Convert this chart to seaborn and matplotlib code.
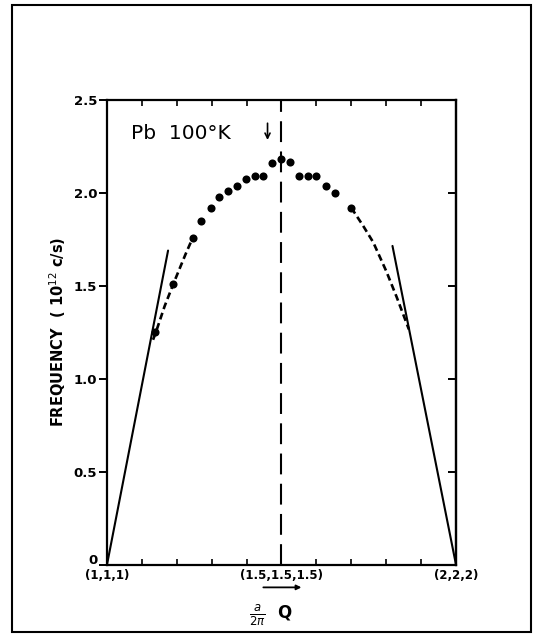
import matplotlib
matplotlib.use("Agg")
import matplotlib.pyplot as plt
import seaborn as sns
from matplotlib.patches import Rectangle
from matplotlib.transforms import ScaledTranslation

# ==========================================================
# DATA
# ==========================================================

# measured phonon frequencies along (1,1,1) -> (2,2,2)
q_points = [1.138, 1.19, 1.246, 1.27, 1.297, 1.322, 1.348, 1.373, 1.399, 1.423,
            1.447, 1.472, 1.50, 1.525, 1.55, 1.575, 1.60, 1.627, 1.653, 1.70]
nu_points = [1.25, 1.51, 1.76, 1.85, 1.92, 1.98, 2.01, 2.035, 2.075, 2.09,
             2.09, 2.16, 2.185, 2.165, 2.09, 2.09, 2.09, 2.04, 2.00, 1.92]

# dashed guide curves
q_dash_left = [1.132, 1.14, 1.165, 1.19, 1.225, 1.246]
nu_dash_left = [1.21, 1.25, 1.39, 1.51, 1.67, 1.76]
q_dash_right = [1.70, 1.734, 1.763, 1.80, 1.83, 1.865]
nu_dash_right = [1.92, 1.823, 1.734, 1.58, 1.44, 1.266]

# elastic (sound velocity) slopes
q_sound_left = [1.0, 1.175]
nu_sound_left = [0.0, 1.69]
q_sound_right = [1.818, 2.0]
nu_sound_right = [1.715, 0.0]

zone_center = 1.5
x_ticks = [1.0, 1.5, 2.0]
x_ticklabels = ["(1,1,1)", "(1.5,1.5,1.5)", "(2,2,2)"]
y_ticks = [0, 0.5, 1.0, 1.5, 2.0, 2.5]
y_ticklabels = ["0", "0.5", "1.0", "1.5", "2.0", "2.5"]

# ==========================================================
# PLOT
# ==========================================================

sns.set_style("ticks")
plt.rcParams["font.family"] = ["DejaVu Sans"]
plt.rcParams["text.color"] = "black"
plt.rcParams["axes.labelcolor"] = "black"
plt.rcParams["xtick.color"] = "black"
plt.rcParams["ytick.color"] = "black"

fig = plt.figure(figsize=(5.45, 6.37), dpi=100)
ax = fig.add_axes([0.1963, 0.1135, 0.6404, 0.7295])

sns.scatterplot(x=q_points, y=nu_points, ax=ax, color="black", s=34,
                edgecolor="black", linewidth=0, zorder=4)

for qs, ns in [(q_dash_left, nu_dash_left), (q_dash_right, nu_dash_right)]:
    sns.lineplot(x=qs, y=ns, ax=ax, color="black", linewidth=1.9,
                 linestyle=(0, (2.6, 1.5)), sort=False, estimator=None)

for qs, ns in [(q_sound_left, nu_sound_left), (q_sound_right, nu_sound_right)]:
    sns.lineplot(x=qs, y=ns, ax=ax, color="black", linewidth=1.5,
                 sort=False, estimator=None)

ax.axvline(zone_center, color="black", linewidth=1.5,
           linestyle=(0, (10, 4.5)), zorder=1)

ax.set_xlim(1.0, 2.0)
ax.set_ylim(0, 2.5)

for side in ["left", "right", "top", "bottom"]:
    ax.spines[side].set_linewidth(1.6)
    ax.spines[side].set_color("black")

# x ticks: labelled at the ends and centre, inward minor ticks every 0.1
ax.set_xticks(x_ticks)
ax.set_xticklabels(x_ticklabels, fontsize=8.5, fontweight="bold")
ax.set_xticks([1.1, 1.2, 1.3, 1.4, 1.6, 1.7, 1.8, 1.9], minor=True)
ax.tick_params(axis="x", which="both", direction="in", top=True, bottom=True,
               length=4, width=1.2, pad=3)

# y ticks: outward on the left, inward on the right
ax.set_yticks(y_ticks)
ax.set_yticklabels(y_ticklabels, fontsize=9.5, fontweight="bold")
ax.tick_params(axis="y", direction="out", length=6, width=1.4, pad=1,
               left=True, right=False)

# the "0" sits level with the corner, left of (1,1,1)
zero_lab = ax.get_yticklabels()[0]
zero_lab.set_transform(zero_lab.get_transform() +
                       ScaledTranslation(0, 4 / 72, fig.dpi_scale_trans))

sec = ax.secondary_yaxis("right")
sec.set_yticks(y_ticks)
sec.set_yticklabels([])
sec.tick_params(direction="in", length=6, width=1.4)
sec.spines["right"].set_linewidth(1.6)

ax.set_ylabel(r"FREQUENCY  ( 10$^{12}$ c/s)", fontsize=10.5,
              fontweight="bold", labelpad=4)
ax.set_xlabel("")

# underline / arrow beneath the centre label
ax.annotate("", xy=(1.565, -0.122), xytext=(1.44, -0.122),
            arrowprops=dict(arrowstyle="-|>", color="black", lw=1.3,
                            mutation_scale=7),
            annotation_clip=False)

# axis label a/2pi Q
ax.text(1.47, -0.275, r"$\frac{a}{2\pi}$  Q", fontsize=12, fontweight="bold",
        ha="center", va="center")

# annotation text and arrow
ax.text(1.068, 2.32, "Pb  100°K", fontsize=14.5, ha="left", va="center")
ax.annotate("", xy=(1.46, 2.27), xytext=(1.46, 2.39),
            arrowprops=dict(arrowstyle="->", color="black", lw=1.2,
                            mutation_scale=9))

# outer frame of the scanned figure
fig.patches.append(Rectangle((0.022, 0.008), 0.952, 0.984,
                             transform=fig.transFigure, fill=False,
                             edgecolor="black", linewidth=1.5))

fig.savefig("out.png", dpi=100)
plt.close(fig)
